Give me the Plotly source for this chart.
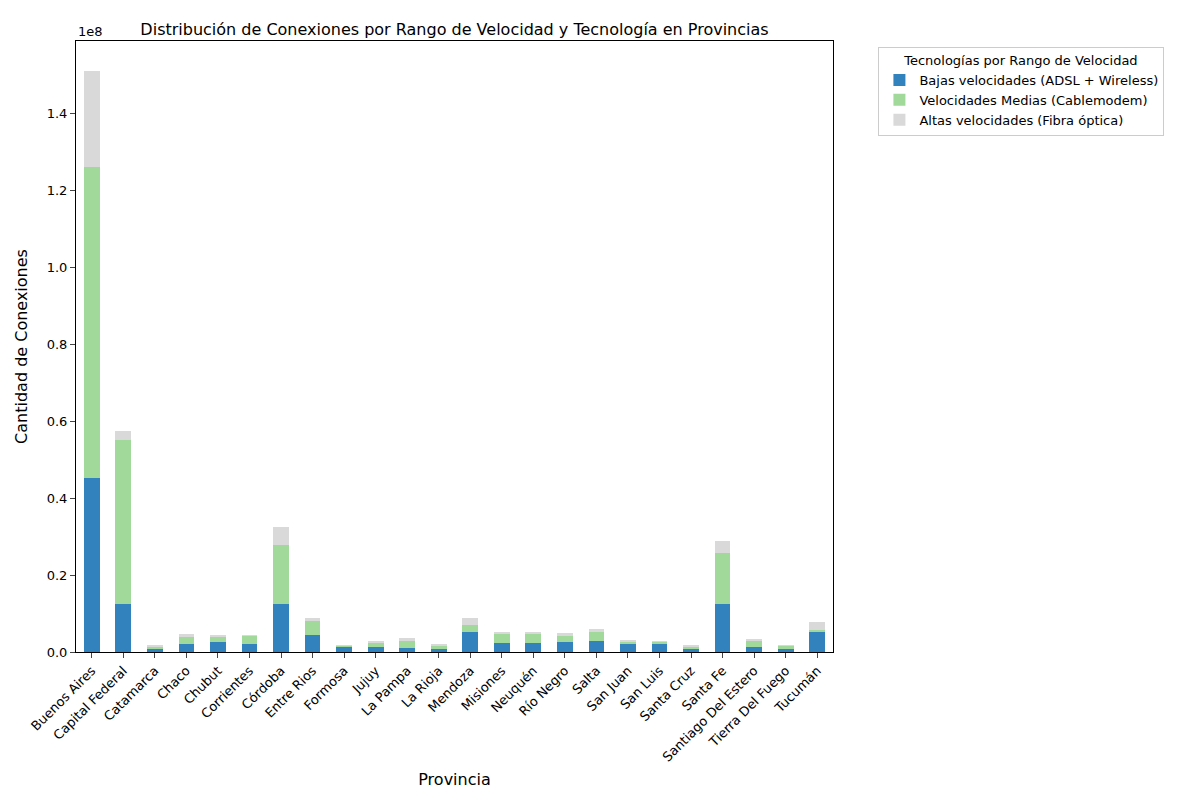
import plotly.graph_objects as go

provincias = ["Buenos Aires","Capital Federal","Catamarca","Chaco","Chubut","Corrientes","Córdoba","Entre Rios","Formosa","Jujuy","La Pampa","La Rioja","Mendoza","Misiones","Neuquén","Río Negro","Salta","San Juan","San Luis","Santa Cruz","Santa Fe","Santiago Del Estero","Tierra Del Fuego","Tucumán"]
bajas = [45.2e6,12.5e6,1.0e6,2.1e6,2.6e6,2.1e6,12.5e6,4.4e6,1.3e6,1.3e6,1.0e6,0.8e6,5.2e6,2.3e6,2.3e6,2.6e6,2.9e6,2.1e6,2.1e6,0.8e6,12.5e6,1.3e6,0.8e6,5.2e6]
medias = [80.8e6,42.6e6,0.2e6,1.8e6,1.3e6,2.1e6,15.3e6,3.6e6,0.3e6,1.0e6,2.1e6,1.0e6,1.8e6,2.4e6,2.4e6,1.6e6,2.3e6,0.5e6,0.5e6,0.5e6,13.2e6,1.8e6,0.8e6,0.5e6]
altas = [25.0e6,2.3e6,0.6e6,0.8e6,0.3e6,0.2e6,4.7e6,0.8e6,0.2e6,0.6e6,0.5e6,0.3e6,1.8e6,0.5e6,0.5e6,0.7e6,0.8e6,0.3e6,0.1e6,0.3e6,3.1e6,0.3e6,0.2e6,2.1e6]
yticks = [0, 0.2e8, 0.4e8, 0.6e8, 0.8e8, 1.0e8, 1.2e8, 1.4e8]
yticklabels = ["0.0","0.2","0.4","0.6","0.8","1.0","1.2","1.4"]

fig = go.Figure()
for name, vals, col in [("Bajas velocidades (ADSL + Wireless)", bajas, "#3182bd"),
                        ("Velocidades Medias (Cablemodem)", medias, "#a1d99b"),
                        ("Altas velocidades (Fibra óptica)", altas, "#d9d9d9")]:
    fig.add_trace(go.Bar(x=list(range(len(provincias))), y=vals, name=name, marker_color=col,
                         marker_line_width=0, width=0.5))

fig.update_layout(
    barmode="stack", width=1184, height=790, plot_bgcolor="white", paper_bgcolor="white",
    font=dict(family="DejaVu Sans", size=13, color="black"),
    margin=dict(l=68, r=359, t=33, b=146, autoexpand=False),
    title=dict(text="Distribución de Conexiones por Rango de Velocidad y Tecnología en Provincias",
               x=0.5, xref="paper", y=1, yref="paper", yanchor="bottom", pad=dict(b=6), font=dict(size=16),
               automargin=False),
    legend=dict(title=dict(text="Tecnologías por Rango de Velocidad", side="top center", font=dict(size=13)),
                x=1.06, y=0.99, xanchor="left", yanchor="top", bordercolor="#cccccc", borderwidth=1,
                font=dict(size=13), traceorder="normal"),
    bargap=0,
)
fig.update_xaxes(range=[-0.5, len(provincias)-0.5], tickvals=list(range(len(provincias))), ticktext=provincias,
                 tickangle=-45, showline=True, linecolor="black", mirror=True, ticks="outside", automargin=False,
                 title=dict(text="Provincia", standoff=10), showgrid=False)
fig.update_yaxes(range=[0, 1.587e8], tickvals=yticks, ticktext=yticklabels, showline=True, linecolor="black",
                 mirror=True, ticks="outside", automargin=False, title=dict(text="Cantidad de Conexiones"), showgrid=False)
fig.add_annotation(text="1e8", xref="paper", yref="paper", x=0, y=1, xanchor="left", yanchor="bottom",
                   showarrow=False, font=dict(size=13))
fig.write_html("out.html")
